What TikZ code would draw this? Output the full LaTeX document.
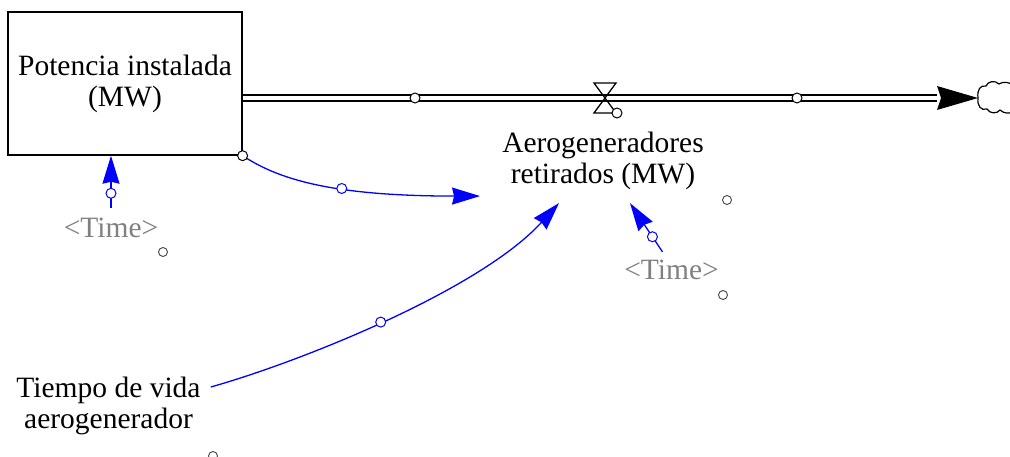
\documentclass[tikz,border=0pt]{standalone}
\usepackage{fontspec}
\setmainfont{Liberation Serif}
\usetikzlibrary{arrows.meta,calc,positioning}
\definecolor{LinkBlue}{RGB}{0,0,255}
\definecolor{ShadowGray}{RGB}{128,128,128}
\definecolor{MarkGray}{RGB}{70,70,70}

\tikzset{
  varlabel/.style={font=\fontsize{29.5}{31}\selectfont,align=center,inner sep=10pt},
  stockbox/.style={varlabel,draw,line width=1.4pt,minimum width=230pt,minimum height=143pt},
  shadowlabel/.style={varlabel,text=ShadowGray},
  pipe/.style={draw,double,double distance=4pt,line width=1.6pt},
  link/.style={LinkBlue,line width=1.3pt,-{Stealth[length=28pt,width=17pt,inset=2pt]}},
  handle/.style={circle,draw,fill=white,inner sep=0pt,minimum size=10pt,line width=1pt},
  linkhandle/.style={handle,draw=LinkBlue},
  marker/.style={circle,draw=MarkGray,fill=white,inner sep=0pt,minimum size=9pt,line width=.9pt}
}

\begin{document}
\begin{tikzpicture}[x=1pt,y=-1pt]
  \useasboundingbox (0,0) rectangle (1010,457);
  % stock, pipe and valve
  \node[stockbox] (potencia) at (125,83.5) {Potencia instalada\\(MW)};
  \coordinate (valve) at (605,98);
  \coordinate (sinkend) at (937,98);
  \draw[pipe] (potencia.east |- valve) -- (sinkend);
  \fill (sinkend) ++(0,-12) -- ++(41,12) -- ++(-41,12) -- ++(4,-12) -- cycle;
  \begin{scope}
    \clip (0,0) rectangle (1010,457);
    \draw[line width=1.2pt] (978,98) .. controls (977,90) and (980,85) .. (986,86)
      .. controls (988,81) and (995,80) .. (999,84)
      .. controls (1003,81) and (1010,82) .. (1014,86);
    \draw[line width=1.2pt] (978,98) .. controls (977,106) and (981,111) .. (987,109)
      .. controls (990,114) and (997,114) .. (1000,110)
      .. controls (1004,114) and (1011,114) .. (1014,111);
  \end{scope}
  \draw[line width=1.3pt] ($(valve)+(-11,-15)$) -- ++(22,0) -- ++(-22,30) -- ++(22,0) -- cycle;
  \node[handle] (valvehandle) at ($(valve)+(12,15)$) {};
  \node[handle] at (415,98) {};
  \node[handle] at (797,98) {};
  % variables
  \node[varlabel] (retirados) at (603,161) {Aerogeneradores\\retirados (MW)};
  \node[varlabel] (tiempo) at (108.5,406) {Tiempo de vida\\aerogenerador};
  \node[shadowlabel] (timeA) at (111,228) {<Time>};
  \node[shadowlabel] (timeB) at (671.5,270) {<Time>};
  % links
  \draw[link] (timeA.north) -- (potencia.south -| timeA.north)
    node[pos=.28,linkhandle] {};
  \draw[link] ($(timeB.north)+(-9,2)$) -- ($(retirados.south)+(27,3)$)
    node[pos=.31,linkhandle] {};
  \draw[link] (potencia.south east) .. controls +(35,23) and +(-150,0) ..
    ($(retirados.south west)+(-12,-4)$) node[pos=.6,linkhandle] {};
  \draw[link] ($(tiempo.east)+(0,-19)$) .. controls +(89,-25) and +(-79,87) ..
    ($(retirados.south)+(-44,3)$) node[pos=.48,linkhandle] {};
  \node[handle] at (potencia.south east) {};
  % hidden handles
  \node[marker] at (727,200) {};
  \node[marker] at (163,252) {};
  \node[marker] at (723,295) {};
  \node[marker] at (213,456) {};
\end{tikzpicture}
\end{document}
